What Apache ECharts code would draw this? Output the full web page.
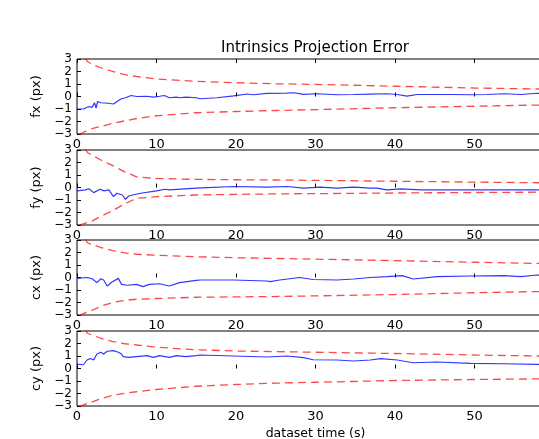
<!DOCTYPE html>
<html>
<head>
<meta charset="utf-8">
<script src="https://cdn.jsdelivr.net/npm/echarts@6/dist/echarts.min.js"></script>
<style>
  html, body { margin: 0; padding: 0; background: #fff; }
  #chart { width: 539px; height: 439px; }
</style>
</head>
<body>
<div id="chart"></div>
<script>
// tick labels
const xTicks = [0, 10, 20, 30, 40, 50, 60];
const yTicks = [-3, -2, -1, 0, 1, 2, 3];
const panelNames = ["fx (px)", "fy (px)", "cx (px)", "cy (px)"];

// 3-sigma bounds, common time grid
const boundT = [0.3, 1.3, 2, 3, 4.5, 6, 7.5, 10, 15, 20, 25, 30, 40, 50, 60];
const fxUp = [4.0, 2.8, 2.55, 2.3, 2.0, 1.75, 1.6, 1.4, 1.22, 1.1, 1.02, 0.97, 0.82, 0.68, 0.58];
const fxLo = [-3.05, -2.7, -2.55, -2.4, -2.15, -1.95, -1.76, -1.54, -1.3, -1.2, -1.12, -1.05, -0.9, -0.78, -0.66];
const fyUp = [4.0, 2.8, 2.55, 2.2, 1.75, 1.25, 0.85, 0.72, 0.65, 0.62, 0.6, 0.57, 0.5, 0.43, 0.37];
const fyLo = [-3.0, -2.8, -2.65, -2.3, -1.85, -1.3, -0.87, -0.73, -0.6, -0.55, -0.51, -0.49, -0.44, -0.4, -0.37];
const cxUp = [4.0, 2.78, 2.62, 2.4, 2.15, 1.97, 1.86, 1.78, 1.66, 1.58, 1.52, 1.47, 1.35, 1.22, 1.1];
const cxLo = [-3.05, -2.75, -2.6, -2.3, -2.0, -1.83, -1.74, -1.68, -1.58, -1.55, -1.52, -1.47, -1.36, -1.22, -1.1];
const cyUp = [4.0, 2.82, 2.65, 2.42, 2.15, 1.98, 1.88, 1.7, 1.5, 1.4, 1.35, 1.3, 1.2, 1.08, 0.98];
const cyLo = [-3.05, -2.8, -2.65, -2.42, -2.15, -1.98, -1.86, -1.68, -1.42, -1.28, -1.17, -1.1, -0.96, -0.88, -0.82];

// estimation errors
const fxT = [0, 0.8, 1.5, 1.9, 2.2, 2.4, 2.6, 3.0, 3.9, 4.6, 5.5, 6.1, 6.8, 7.5, 8.8, 9.6, 10.4, 11.0, 11.6, 12.5, 12.9, 13.7, 15.0, 15.5, 17.6, 19.7, 21.4, 22.2, 23.9, 26.4, 27.3, 28.5, 30.2, 32.7, 34.8, 36.9, 39.0, 40.3, 41.5, 42.8, 45.3, 47.4, 49.5, 51.6, 53.7, 55.8, 57.9, 60];
const fxV = [-1.0, -1.0, -0.8, -0.87, -0.5, -0.92, -0.4, -0.5, -0.54, -0.6, -0.2, -0.1, 0.08, 0.0, 0.02, -0.05, 0.02, 0.08, -0.1, -0.05, -0.1, -0.05, -0.1, -0.18, -0.1, 0.05, 0.2, 0.14, 0.25, 0.27, 0.3, 0.17, 0.22, 0.14, 0.16, 0.19, 0.22, 0.16, 0.03, 0.16, 0.16, 0.16, 0.14, 0.16, 0.22, 0.16, 0.26, 0.22];
const fyT = [0, 1.05, 1.5, 2.1, 2.9, 3.4, 4.0, 4.6, 5.0, 5.7, 6.1, 6.5, 7.0, 8.0, 10.0, 11.1, 11.6, 15.0, 19.7, 23.9, 26.4, 28.5, 30.6, 32.7, 34.8, 36.9, 37.7, 39.0, 40.7, 43.2, 49.5, 53.7, 57.9, 60];
const fyV = [-0.27, -0.19, -0.1, -0.41, -0.14, -0.27, -0.19, -0.73, -0.46, -0.6, -0.95, -0.68, -0.6, -0.46, -0.27, -0.14, -0.19, -0.05, 0.08, 0.03, 0.08, -0.05, 0.03, -0.05, 0.03, -0.05, -0.05, -0.19, -0.11, -0.19, -0.19, -0.18, -0.19, -0.19];
const cxT = [0, 1.26, 1.9, 2.5, 3.0, 3.35, 3.8, 4.4, 5.2, 5.6, 6.3, 7.5, 8.3, 9.1, 10.4, 11.6, 12.9, 15.0, 15.5, 19.7, 23.9, 24.3, 25.5, 28.0, 29.7, 32.7, 34.8, 36.9, 39.0, 40.9, 42.3, 45.3, 49.5, 53.7, 55.8, 57.9, 60];
const cxV = [-0.07, 0.0, -0.1, -0.41, -0.1, -0.2, -0.68, -0.36, -0.07, -0.55, -0.62, -0.55, -0.73, -0.55, -0.5, -0.68, -0.41, -0.23, -0.2, -0.2, -0.28, -0.33, -0.2, 0.0, -0.16, -0.2, -0.12, 0.0, 0.07, 0.15, -0.12, 0.07, 0.12, 0.15, 0.07, 0.2, 0.15];
const cyT = [0, 0.8, 1.26, 1.7, 2.1, 2.5, 3.0, 3.35, 3.8, 4.6, 5.2, 5.6, 5.8, 6.5, 7.5, 8.8, 9.6, 10.4, 11.6, 12.5, 13.7, 15.0, 15.5, 19.7, 23.9, 26.4, 28.5, 29.7, 32.7, 34.8, 36.9, 38.2, 40.3, 41.0, 42.3, 45.3, 49.5, 53.7, 57.9, 60];
const cyV = [0.35, 0.3, 0.68, 0.8, 0.68, 1.16, 1.3, 1.16, 1.38, 1.43, 1.3, 1.16, 0.95, 0.89, 0.95, 1.03, 0.89, 1.03, 0.89, 1.03, 0.95, 1.03, 1.08, 1.0, 0.92, 1.0, 0.87, 0.7, 0.68, 0.6, 0.68, 0.79, 0.68, 0.6, 0.46, 0.52, 0.41, 0.38, 0.33, 0.33];

const panels = [
  { t: fxT, v: fxV, up: fxUp, lo: fxLo },
  { t: fyT, v: fyV, up: fyUp, lo: fyLo },
  { t: cxT, v: cxV, up: cxUp, lo: cxLo },
  { t: cyT, v: cyV, up: cyUp, lo: cyLo },
];

const FONT = "DejaVu Sans";
const tops = [59, 150, 240, 331];

function zip(xs, ys) {
  return xs.map((x, i) => [x, ys[i]]);
}
function fmtY(v) {
  return v < 0 ? "\u2212" + Math.abs(v) : String(v);
}

const grid = [];
const xAxis = [];
const yAxis = [];
const series = [];

panels.forEach((p, i) => {
  grid.push({
    left: 77,
    top: tops[i],
    width: 477,
    height: 75,
    outerBoundsMode: "none",
    containLabel: false,
    show: true,
    backgroundColor: "#fff",
    borderColor: "#000",
    borderWidth: 1,
    z: i * 2,
  });
  // bottom axis with labels
  xAxis.push({
    type: "value",
    gridIndex: i,
    min: xTicks[0],
    max: xTicks[xTicks.length - 1],
    interval: 10,
    position: "bottom",
    axisLine: { show: false },
    axisTick: { show: true, inside: true, length: 4, lineStyle: { color: "#000" } },
    axisLabel: { show: true, color: "#000", fontFamily: FONT, fontSize: 13, margin: 4, showMinLabel: true },
    splitLine: { show: false },
    name: i === 3 ? "dataset time (s)" : "",
    nameLocation: "middle",
    nameGap: 21,
    nameTextStyle: { color: "#000", fontFamily: FONT, fontSize: 12.5 },
    z: i * 2 + 1,
  });
  // top axis, ticks only
  xAxis.push({
    type: "value",
    gridIndex: i,
    min: xTicks[0],
    max: xTicks[xTicks.length - 1],
    interval: 10,
    position: "top",
    axisLine: { show: false },
    axisTick: { show: true, inside: true, length: 4, lineStyle: { color: "#000" } },
    axisLabel: { show: false },
    splitLine: { show: false },
  });
  yAxis.push({
    type: "value",
    gridIndex: i,
    min: yTicks[0],
    max: yTicks[yTicks.length - 1],
    interval: 1,
    axisLine: { show: false },
    axisTick: { show: true, inside: true, length: 4, lineStyle: { color: "#000" } },
    axisLabel: {
      color: "#000",
      fontFamily: FONT,
      fontSize: 12,
      margin: 5,
      formatter: fmtY,
      showMinLabel: true,
      showMaxLabel: true,
    },
    splitLine: { show: false },
    name: panelNames[i],
    nameLocation: "middle",
    nameGap: 30,
    nameRotate: 90,
    nameTextStyle: { color: "#000", fontFamily: FONT, fontSize: 13 },
    z: i * 2 + 1,
  });

  const dashed = {
    color: "rgba(255,0,0,0.72)",
    width: 1.3,
    type: [8, 5],
  };
  series.push({
    type: "line",
    xAxisIndex: i * 2,
    yAxisIndex: i,
    data: zip(boundT, p.up),
    showSymbol: false,
    symbol: "none",
    clip: true,
    lineStyle: dashed,
    z: i * 2 + 1,
  });
  series.push({
    type: "line",
    xAxisIndex: i * 2,
    yAxisIndex: i,
    data: zip(boundT, p.lo),
    showSymbol: false,
    symbol: "none",
    clip: true,
    lineStyle: dashed,
    z: i * 2 + 1,
  });
  series.push({
    type: "line",
    xAxisIndex: i * 2,
    yAxisIndex: i,
    data: zip(p.t, p.v),
    showSymbol: false,
    symbol: "none",
    clip: true,
    lineStyle: { color: "rgba(0,0,255,0.8)", width: 1.2 },
    z: i * 2 + 1,
  });
});

const chart = echarts.init(document.getElementById("chart"));
chart.setOption({
  animation: false,
  backgroundColor: "#fff",
  graphic: [
    {
      type: "text",
      x: 315,
      y: 48,
      style: {
        text: "Intrinsics Projection Error",
        font: "15px " + FONT,
        fill: "#000",
        align: "center",
        verticalAlign: "middle",
      },
    },
  ],
  grid: grid,
  xAxis: xAxis,
  yAxis: yAxis,
  series: series,
});
</script>
</body>
</html>
